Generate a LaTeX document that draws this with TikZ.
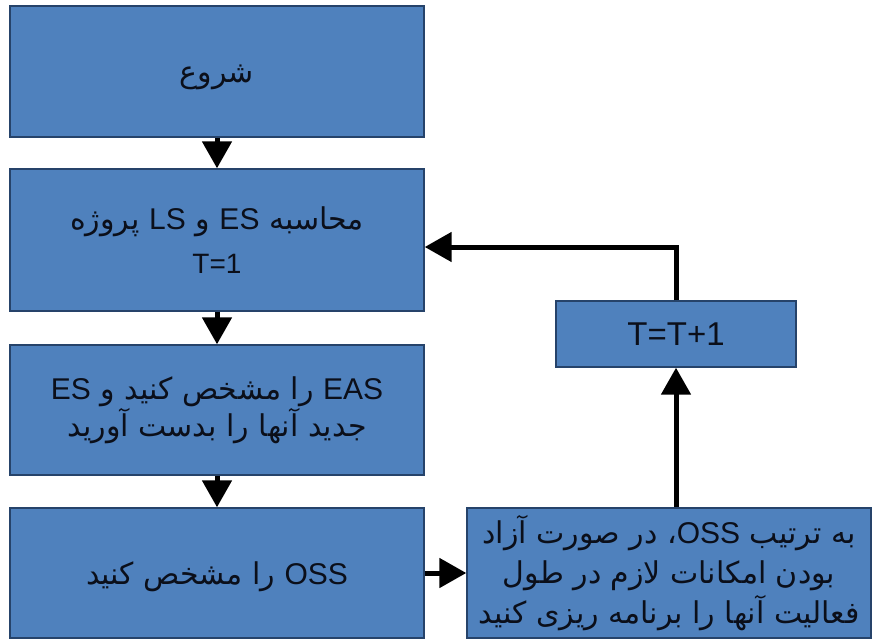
\documentclass[tikz,border=0pt]{standalone}
\usepackage{fontspec}
\setmainfont{Liberation Sans}
\newfontfamily\arabicfont[Script=Arabic]{DejaVu Sans}
\newfontfamily\latinfont{Liberation Sans}
\TeXXeTstate=1
\newcommand\la[1]{{\latinfont #1}}
% lower a line of text without changing its measured size
\newcommand\lowered[2]{\raisebox{-#1}[\height][\depth]{#2}}
\usetikzlibrary{arrows.meta}
\definecolor{boxfill}{HTML}{4F81BD}
\definecolor{boxline}{HTML}{26436A}
\definecolor{ink}{HTML}{0B0F1A}
\begin{document}
\begin{tikzpicture}[x=1pt,y=-1pt,
  flowbox/.style={draw=boxline,line width=1.4pt,fill=boxfill,text=ink,
    align=center,inner sep=0pt,font=\arabicfont\fontsize{30}{40}\selectfont},
  link/.style={line width=5pt,-{Triangle[length=27pt,width=29pt]}}]
\useasboundingbox (0,0) rectangle (874,639);
\clip (0,0) rectangle (874,639);

% left column of steps
\node[flowbox,minimum width=414pt,minimum height=131pt] (b1) at (217,71.5)
  {\lowered{6pt}{\beginR شروع\endR}};
\node[flowbox,minimum width=414pt,minimum height=142pt,
      font=\arabicfont\fontsize{30}{44}\selectfont] (b2) at (217,240)
  {\beginR محاسبه \la{ES} و \la{LS} پروژه\endR\\
   {\latinfont\fontsize{28}{28}\selectfont T=1}};
\node[flowbox,minimum width=414pt,minimum height=130pt,
      font=\arabicfont\fontsize{30}{37}\selectfont] (b3) at (217,410)
  {\beginR \la{EAS} را مشخص کنید و \la{ES}\endR\\
   \beginR جدید آنها را بدست آورید\endR};
\node[flowbox,minimum width=414pt,minimum height=130pt] (b4) at (217,573)
  {\lowered{4pt}{\beginR \la{OSS} را مشخص کنید\endR}};

% scheduling step and time increment
\node[flowbox,minimum width=404pt,minimum height=130pt] (b5) at (669,573)
  {\beginR به ترتیب \la{OSS}، در صورت آزاد\endR\\
   \beginR بودن امکانات لازم در طول\endR\\
   \beginR فعالیت آنها را برنامه ریزی کنید\endR};
\node[flowbox,minimum width=240pt,minimum height=66pt,
      font=\latinfont\fontsize{33}{33}\selectfont] (b6) at (676,334)
  {T=T+1};

% connectors
\draw[link] (b1) -- (b2);
\draw[link] (b2) -- (b3);
\draw[link] (b3) -- (b4);
\draw[link] (b4) -- (b5);
\draw[link] (b5.north -| b6) -- (b6.south);
\draw[link] (b6.north) |- ([yshift=-7pt]b2.east);
\end{tikzpicture}
\end{document}
